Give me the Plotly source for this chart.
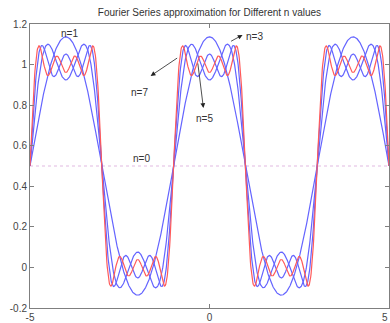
import numpy as np
import plotly.graph_objects as go

# Square wave parameters
x_min, x_max = -5, 5
period = 4.0          # high on (-1,1), low on (1,3), ...
offset = 0.5          # n=0 term
amplitude = 1.0

# Approximation orders shown
n_values = [1, 3, 5, 7]
line_colors = ["rgb(100,100,255)", "rgb(100,100,255)", "rgb(100,100,255)", "rgb(255,90,90)"]

# Annotation labels
label_texts = ["n=1", "n=3", "n=7", "n=5", "n=0"]
label_x = [-3.91, 1.25, -1.95, -0.14, -1.89]
label_y = [1.152, 1.14, 0.86, 0.732, 0.537]

arrow_head_x = [0.92, -1.64, -0.17]
arrow_head_y = [1.146, 0.944, 0.786]
arrow_tail_x = [0.56, -0.86, -0.33]
arrow_tail_y = [1.111, 1.037, 1.013]

x = np.linspace(x_min, x_max, 1001)
w = 2 * np.pi / period


def partial_sum(n):
    y = np.full_like(x, offset)
    for k in range(1, n + 1, 2):
        sign = (-1) ** ((k - 1) // 2)
        y += amplitude * (2 / np.pi) * sign * np.cos(k * w * x) / k
    return y


fig = go.Figure()

# n = 0 dotted line
fig.add_trace(go.Scatter(x=[x_min, x_max], y=[offset, offset], mode="lines",
                         line=dict(color="rgb(225,185,225)", width=1, dash="dot"),
                         showlegend=False, hoverinfo="skip"))

for n, c in zip(n_values, line_colors):
    fig.add_trace(go.Scatter(x=x, y=partial_sum(n), mode="lines",
                             line=dict(color=c, width=1.2),
                             showlegend=False))

font_small = dict(family="Liberation Sans, Arial", size=10, color="#333333")
annotations = []
for t, lx, ly in zip(label_texts, label_x, label_y):
    annotations.append(dict(x=lx, y=ly, xref="x", yref="y", text=t, showarrow=False,
                            font=font_small))
for hx, hy, tx, ty in zip(arrow_head_x, arrow_head_y, arrow_tail_x, arrow_tail_y):
    annotations.append(dict(x=hx, y=hy, ax=tx, ay=ty, xref="x", yref="y", axref="x", ayref="y",
                            text="", showarrow=True, arrowhead=2, arrowsize=1.2,
                            arrowwidth=0.8, arrowcolor="#222222"))
# right-most x tick label (kept inside the page)
annotations.append(dict(x=x_max, y=0, xref="x", yref="paper", yanchor="top", yshift=-2,
                        xanchor="right", xshift=1,
                        text="5", showarrow=False,
                        font=dict(family="Liberation Sans, Arial", size=10, color="#444444")))

axis_common = dict(showline=True, linecolor="#7f7f7f", linewidth=1, mirror="ticks",
                   ticks="inside", ticklen=4, tickcolor="#7f7f7f", showgrid=False,
                   zeroline=False,
                   tickfont=dict(family="Liberation Sans, Arial", size=10, color="#444444"))

fig.update_layout(
    width=390, height=323,
    margin=dict(l=30, r=1, t=24, b=15),
    paper_bgcolor="white", plot_bgcolor="white",
    title=dict(text="Fourier Series approximation for Different n values",
               x=(30 + 389) / 2 / 390, xanchor="center", y=1 - 12 / 323, yanchor="middle",
               font=font_small),
    xaxis=dict(range=[x_min, x_max], tickvals=[-5, 0, 5], ticktext=["-5", "0", "5"], **axis_common),
    yaxis=dict(range=[-0.2, 1.2], tickvals=[-0.2, 0, 0.2, 0.4, 0.6, 0.8, 1, 1.2],
               ticktext=["-0.2", "0", "0.2", "0.4", "0.6", "0.8", "1", "1.2"], **axis_common),
    annotations=annotations,
    showlegend=False,
)

fig.write_html("out.html")
